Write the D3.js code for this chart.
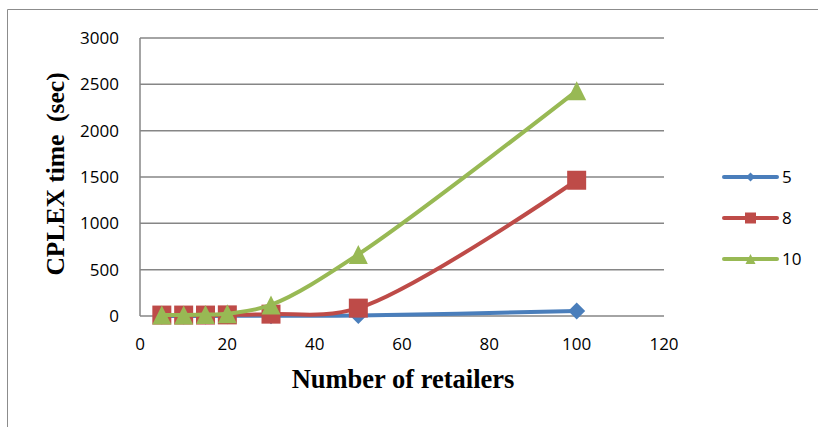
<!DOCTYPE html>
<html>
<head>
<meta charset="utf-8">
<script src="https://d3js.org/d3.v7.min.js"></script>
<style>
  body { margin: 0; background: #fff; overflow: hidden; }
  svg { display: block; }
</style>
</head>
<body>
<div id="chart"></div>
<script>
// Data
const retailers = [5, 10, 15, 20, 30, 50, 100];
const time5 = [1, 1, 1, 2, 3, 5, 55];
const time8 = [10, 10, 10, 12, 20, 85, 1465];
const time10 = [12, 12, 15, 25, 120, 665, 2430];
const seriesNames = ["5", "8", "10"];
const yTicks = [0, 500, 1000, 1500, 2000, 2500, 3000];
const xTicks = [0, 20, 40, 60, 80, 100, 120];

// marker shapes centred on their bounding box, like the spreadsheet ones
const diamond = { draw(ctx, size) { const r = Math.sqrt(size) / 2; ctx.moveTo(0, -r); ctx.lineTo(r, 0); ctx.lineTo(0, r); ctx.lineTo(-r, 0); ctx.closePath(); } };
const square = { draw(ctx, size) { const r = Math.sqrt(size) / 2; ctx.rect(-r, -r, 2 * r, 2 * r); } };
const triangle = { draw(ctx, size) { const r = Math.sqrt(size) / 2; ctx.moveTo(0, -r); ctx.lineTo(r, r); ctx.lineTo(-r, r); ctx.closePath(); } };

const series = [
  { name: seriesNames[0], values: time5, color: "#4a7ebb", symbol: diamond, size: 17 * 17, legendSize: 9 * 9 },
  { name: seriesNames[1], values: time8, color: "#be4b48", symbol: square, size: 19 * 19, legendSize: 11 * 11 },
  { name: seriesNames[2], values: time10, color: "#98b954", symbol: triangle, size: 19 * 19, legendSize: 10 * 10 }
];

const width = 818, height = 427;
const margin = { top: 38, right: 154, bottom: 111, left: 140 };
const innerWidth = width - margin.left - margin.right;
const innerHeight = height - margin.top - margin.bottom;

const svg = d3.select("#chart").append("svg")
  .attr("width", width)
  .attr("height", height);

// outer chart frame (cut off at right and bottom)
svg.append("path")
  .attr("d", `M7.5,${height}V9.5H${width}`)
  .attr("fill", "none")
  .attr("stroke", "#8c8c8c")
  .attr("stroke-width", 1);

const g = svg.append("g").attr("transform", `translate(${margin.left},${margin.top})`);

const x = d3.scaleLinear().domain([0, 120]).range([0, innerWidth]);
const y = d3.scaleLinear().domain([0, 3000]).range([innerHeight, 0]);

// gridlines
g.selectAll(".grid")
  .data(yTicks)
  .join("line")
  .attr("x1", 0).attr("x2", innerWidth)
  .attr("y1", d => y(d)).attr("y2", d => y(d))
  .attr("stroke", "#868686")
  .attr("stroke-width", 1.5);

// y axis line
g.append("line")
  .attr("x1", 0).attr("x2", 0)
  .attr("y1", 0).attr("y2", innerHeight)
  .attr("stroke", "#868686")
  .attr("stroke-width", 1.5);

// tick labels
g.selectAll(".ylab")
  .data(yTicks)
  .join("text")
  .attr("x", -21)
  .attr("y", d => y(d))
  .attr("dy", "0.35em")
  .attr("text-anchor", "end")
  .style("font-family", "'Open Sans', sans-serif")
  .style("font-size", "17px")
  .style("fill", "#000")
  .text(d => d);

g.selectAll(".xlab")
  .data(xTicks)
  .join("text")
  .attr("x", d => x(d))
  .attr("y", innerHeight + 28)
  .attr("dy", "0.35em")
  .attr("text-anchor", "middle")
  .style("font-family", "'Open Sans', sans-serif")
  .style("font-size", "17px")
  .style("fill", "#000")
  .text(d => d);

// axis titles
svg.append("text")
  .attr("x", 403)
  .attr("y", 388)
  .attr("text-anchor", "middle")
  .style("font-family", "'Liberation Serif', serif")
  .style("font-weight", "bold")
  .style("font-size", "26.5px")
  .text("Number of retailers");

svg.append("text")
  .attr("transform", `translate(64,174) rotate(-90)`)
  .attr("text-anchor", "middle")
  .style("font-family", "'Liberation Serif', serif")
  .style("font-weight", "bold")
  .style("font-size", "25.5px")
  .style("white-space", "pre")
  .text("CPLEX time  (sec)");

// lines
const line = d3.line()
  .x((d, i) => x(retailers[i]))
  .y(d => y(d))
  .curve(d3.curveCatmullRom.alpha(0.5));

series.forEach(s => {
  g.append("path")
    .datum(s.values)
    .attr("d", line)
    .attr("fill", "none")
    .attr("stroke", s.color)
    .attr("stroke-width", 4)
    .attr("stroke-linecap", "round")
    .attr("stroke-linejoin", "round");

  g.selectAll(null)
    .data(s.values)
    .join("path")
    .attr("transform", (d, i) => `translate(${x(retailers[i])},${y(d)})`)
    .attr("d", d3.symbol().type(s.symbol).size(s.size))
    .attr("fill", s.color);
});

// legend
const legend = svg.append("g").attr("transform", "translate(722,177)");
series.forEach((s, i) => {
  const row = legend.append("g").attr("transform", `translate(0,${i * 41})`);
  row.append("line")
    .attr("x1", 2).attr("x2", 55)
    .attr("y1", 0).attr("y2", 0)
    .attr("stroke", s.color)
    .attr("stroke-width", 4)
    .attr("stroke-linecap", "round");
  row.append("path")
    .attr("transform", "translate(28.5,0)")
    .attr("d", d3.symbol().type(s.symbol).size(s.legendSize))
    .attr("fill", s.color);
  row.append("text")
    .attr("x", 60)
    .attr("y", 0)
    .attr("dy", "0.35em")
    .style("font-family", "'Open Sans', sans-serif")
    .style("font-size", "17px")
    .text(s.name);
});
</script>
</body>
</html>
